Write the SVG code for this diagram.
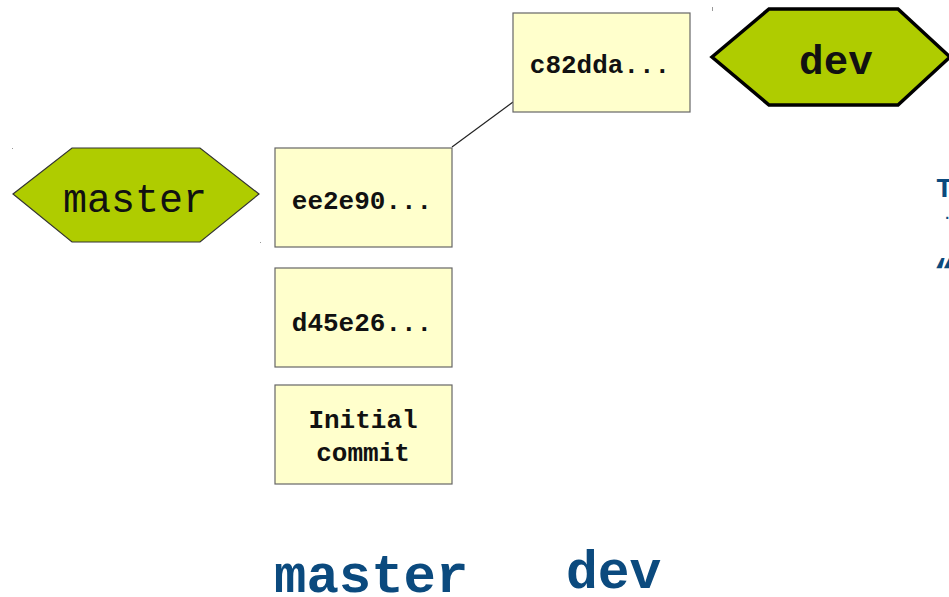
<svg xmlns="http://www.w3.org/2000/svg" width="949" height="597" viewBox="0 0 949 597">
<style>
.hex{fill:#afcc00;}
.box{fill:#ffffcc;stroke:#666;stroke-width:1.2;}
.bt{font-family:"Liberation Mono",monospace;font-weight:bold;font-size:26px;fill:#111;text-anchor:middle;}
.big{font-family:"Liberation Mono",monospace;font-weight:bold;fill:#0b4a7e;}
.mark{fill:#999;}
</style>
<rect width="949" height="597" fill="#fff"/>
<g id="connectors">
<line x1="452" y1="147" x2="513" y2="102" stroke="#222" stroke-width="1.2"/>
</g>
<g id="master-label">
<polygon class="hex" points="13,194 72,148 200,148 259,194 200,242 72,242" stroke="#333" stroke-width="1.2"/>
<text x="135" y="212" font-family="Liberation Mono,monospace" font-size="40" fill="#111" text-anchor="middle">master</text>
</g>
<g id="dev-label">
<polygon class="hex" points="712,57 769,9 898,9 950,57 898,105 769,105" stroke="#000" stroke-width="3.5" stroke-linejoin="miter"/>
<text x="836" y="74" font-family="Liberation Mono,monospace" font-weight="bold" font-size="41" fill="#111" text-anchor="middle">dev</text>
</g>
<g id="commit-c82dda">
<rect class="box" x="513" y="13" width="177" height="99"/>
<text class="bt" x="600" y="73">c82dda...</text>
</g>
<g id="commit-ee2e90">
<rect class="box" x="275" y="148" width="177" height="99"/>
<text class="bt" x="362" y="209">ee2e90...</text>
</g>
<g id="commit-d45e26">
<rect class="box" x="275" y="268" width="177" height="99"/>
<text class="bt" x="362" y="331">d45e26...</text>
</g>
<g id="commit-initial">
<rect class="box" x="275" y="385" width="177" height="99"/>
<text class="bt" x="363" y="428">Initial</text>
<text class="bt" x="363" y="461">commit</text>
</g>
<g id="titles">
<text class="big" x="274" y="592" font-size="54">master</text>
<text class="big" x="566" y="588" font-size="53">dev</text>
</g>
<g id="edge-text">
<text class="big" x="936" y="197" font-size="28">T</text>
<text class="big" x="943" y="219" font-size="14">.</text>
<text class="big" x="934" y="282" font-size="34">“</text>
</g>
<g id="marks">
<rect class="mark" x="12" y="148" width="1" height="1"/>
<rect class="mark" x="260" y="242" width="1" height="1"/>
<rect class="mark" x="712" y="7" width="1" height="4"/>
</g>
</svg>
